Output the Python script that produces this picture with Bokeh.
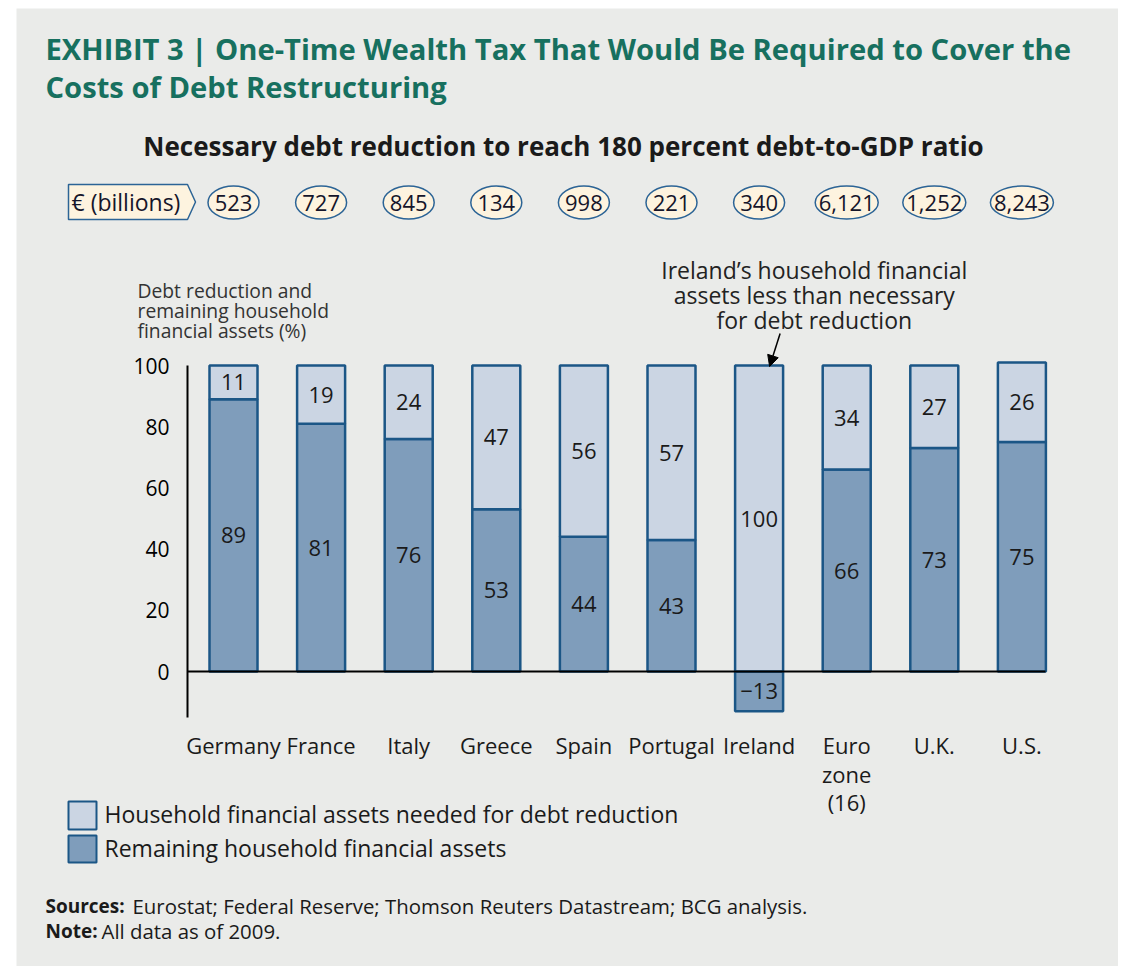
from bokeh.plotting import figure
from bokeh.models import Range1d, LinearAxis, FixedTicker, Arrow, NormalHead
from bokeh.core.properties import value
from bokeh.embed import file_html
from bokeh.resources import INLINE

# ---------------- data ----------------
countries = ["Germany", "France", "Italy", "Greece", "Spain", "Portugal",
             "Ireland", "Euro zone (16)", "U.K.", "U.S."]
country_labels = ["Germany", "France", "Italy", "Greece", "Spain", "Portugal",
                  "Ireland", "Euro\nzone\n(16)", "U.K.", "U.S."]
needed_pct = [11, 19, 24, 47, 56, 57, 100, 34, 27, 26]
remaining_pct = [89, 81, 76, 53, 44, 43, -13, 66, 73, 75]
debt_reduction_bn = [523, 727, 845, 134, 998, 221, 340, 6121, 1252, 8243]
y_ticks = [0, 20, 40, 60, 80, 100]

# ---------------- style / layout ----------------
FONT = "Open Sans"
BG = "#eaebe9"
DARK = "#7f9dbb"
LIGHT = "#cbd5e3"
OUTLINE = "#1b5686"
CREAM = "#fdf3df"
TEAL = "#17705f"
TXT = "#1a1a1a"

W, H = 1102, 958          # canvas size
OX, OY = 16, 8            # canvas origin on the page
X0, XSTEP = 233.0, 87.6   # first slot centre / slot width (px)
Y0, YSCALE = 671.0, 3.06  # zero line (px) / px per percent
AXIS_X = 187.0
BAR_W = 48 / XSTEP

x_range = Range1d(-(X0 - OX) / XSTEP, (OX + W - X0) / XSTEP)
y_range = Range1d(-(OY + H - Y0) / YSCALE, (Y0 - OY) / YSCALE)

p = figure(width=W, height=H, x_range=x_range, y_range=y_range,
           output_backend="svg", toolbar_location=None,
           x_axis_location=None, y_axis_location=None,
           min_border=0, margin=(OY, 0, 0, OX),
           background_fill_color=BG, border_fill_color=BG,
           outline_line_color=None)
p.title.visible = False
p.xgrid.grid_line_color = None
p.ygrid.grid_line_color = None
p.extra_x_ranges = {"px": Range1d(OX, OX + W)}
p.extra_y_ranges = {"py": Range1d(OY + H, OY)}

xs = list(range(len(countries)))
rem_bottom = [min(r, 0) for r in remaining_pct]
rem_top = [max(r, 0) for r in remaining_pct]
need_bottom = rem_top
need_top = [b + n for b, n in zip(rem_top, needed_pct)]

p.vbar(x=xs, bottom=rem_bottom, top=rem_top, width=BAR_W,
       fill_color=DARK, line_color=OUTLINE, line_width=2.5)
p.vbar(x=xs, bottom=need_bottom, top=need_top, width=BAR_W,
       fill_color=LIGHT, line_color=OUTLINE, line_width=2.5)

fmt = lambda v: str(v).replace("-", "\u2212")
p.text(x=xs, y=[(b + t) / 2 for b, t in zip(need_bottom, need_top)],
       text=[fmt(v) for v in needed_pct], text_align="center",
       text_baseline="middle", text_font=value(FONT),
       text_font_size="22px", text_color=TXT)
p.text(x=xs, y=[(b + t) / 2 for b, t in zip(rem_bottom, rem_top)],
       text=[fmt(v) for v in remaining_pct], text_align="center",
       text_baseline="middle", text_font=value(FONT),
       text_font_size="22px", text_color=TXT)

# y axis
yaxis = LinearAxis(fixed_location=(AXIS_X - X0) / XSTEP, bounds=(-15, 100),
                   ticker=FixedTicker(ticks=y_ticks),
                   axis_line_color="black", axis_line_width=2,
                   major_tick_line_color=None, minor_tick_line_color=None,
                   major_label_standoff=12,
                   major_label_text_font=FONT,
                   major_label_text_font_size="21px",
                   major_label_text_color="black")
p.add_layout(yaxis, "left")

# zero line
zaxis = LinearAxis(fixed_location=0, bounds=((AXIS_X - X0) / XSTEP, 9 + BAR_W / 2),
                   ticker=FixedTicker(ticks=[]),
                   axis_line_color="black", axis_line_width=2,
                   major_tick_line_color=None, minor_tick_line_color=None,
                   major_label_text_font_size="0px")
p.add_layout(zaxis, "below")

# category axis
xaxis = LinearAxis(fixed_location=-15, ticker=FixedTicker(ticks=xs),
                   major_label_overrides={i: lab for i, lab in enumerate(country_labels)},
                   axis_line_color=None, major_tick_line_color=None,
                   minor_tick_line_color=None, major_label_standoff=7,
                   major_label_text_font=FONT,
                   major_label_text_font_size="22px",
                   major_label_text_line_height=0.95,
                   major_label_text_color=TXT)
p.add_layout(xaxis, "below")

# billions row
bn_labels = [f"{v:,}" for v in debt_reduction_bn]
p.ellipse(x=xs, y=202, width=[33 + 6 * len(s) for s in bn_labels], height=33,
          width_units="screen", height_units="screen", y_range_name="py",
          fill_color=CREAM, line_color="#2c6496", line_width=1.5)
p.text(x=xs, y=202, text=bn_labels, y_range_name="py", text_align="center",
       text_baseline="middle", text_font=value(FONT), text_font_size="22px",
       text_color="#15152a")
p.patch(x=[68, 187, 195, 187, 68], y=[184, 184, 201.5, 219, 219],
        x_range_name="px", y_range_name="py",
        fill_color=CREAM, line_color="#2c6496", line_width=1.5)
p.text(x=[71], y=[201], text=["\u20ac (billions)"], x_range_name="px",
       y_range_name="py", text_baseline="middle", text_font=value(FONT),
       text_font_size="23px", text_color="#15152a")


def txt(x, y, s, size, color=TXT, bold=False, align="left", baseline="middle"):
    p.text(x=[x], y=[y], text=[s], x_range_name="px", y_range_name="py",
           text_align=align, text_baseline=baseline, text_font=value(FONT),
           text_font_size=size, text_color=color,
           text_font_style="bold" if bold else "normal")


# titles
txt(45, 48, "EXHIBIT 3 | One-Time Wealth Tax That Would Be Required to Cover the",
    "29.2px", TEAL, True)
txt(45, 86, "Costs of Debt Restructuring", "29.2px", TEAL, True)
txt(563, 145, "Necessary debt reduction to reach 180 percent debt-to-GDP ratio",
    "26px", TXT, True, align="center")

# y axis title
for yy, s in zip([290, 310, 330], ["Debt reduction and", "remaining household",
                                   "financial assets (%)"]):
    txt(137, yy, s, "19.3px", "#333333")

# Ireland note (anchored to the Ireland bar)
IRL = countries.index("Ireland")
for yy, s in zip([269, 294, 319], ["Ireland\u2019s household financial",
                                   "assets less than necessary",
                                   "for debt reduction"]):
    p.text(x=[IRL + 0.63], y=[yy], text=[s], y_range_name="py",
           text_align="center", text_baseline="middle", text_font=value(FONT),
           text_font_size="23px", text_color="#222222")
p.add_layout(Arrow(end=NormalHead(size=11, fill_color="black", line_color="black"),
                   x_start=IRL + 0.24, y_start=333, x_end=IRL + 0.12, y_end=366,
                   y_range_name="py", line_color="black", line_width=1.5))

# legend
p.quad(left=[68, 68], right=[96, 96], top=[801, 835], bottom=[829, 862],
       x_range_name="px", y_range_name="py", fill_color=[LIGHT, DARK],
       line_color=OUTLINE, line_width=2)
txt(104, 813, "Household financial assets needed for debt reduction", "23px")
txt(104, 847, "Remaining household financial assets", "23px")

# footnotes
txt(45, 905, "Sources:", "19px", TXT, True)
txt(132, 905, "Eurostat; Federal Reserve; Thomson Reuters Datastream; BCG analysis.", "20.4px")
txt(45, 930, "Note:", "19px", TXT, True)
txt(101, 930, "All data as of 2009.", "20.4px")

open("out.html", "w").write(file_html(p, INLINE))
